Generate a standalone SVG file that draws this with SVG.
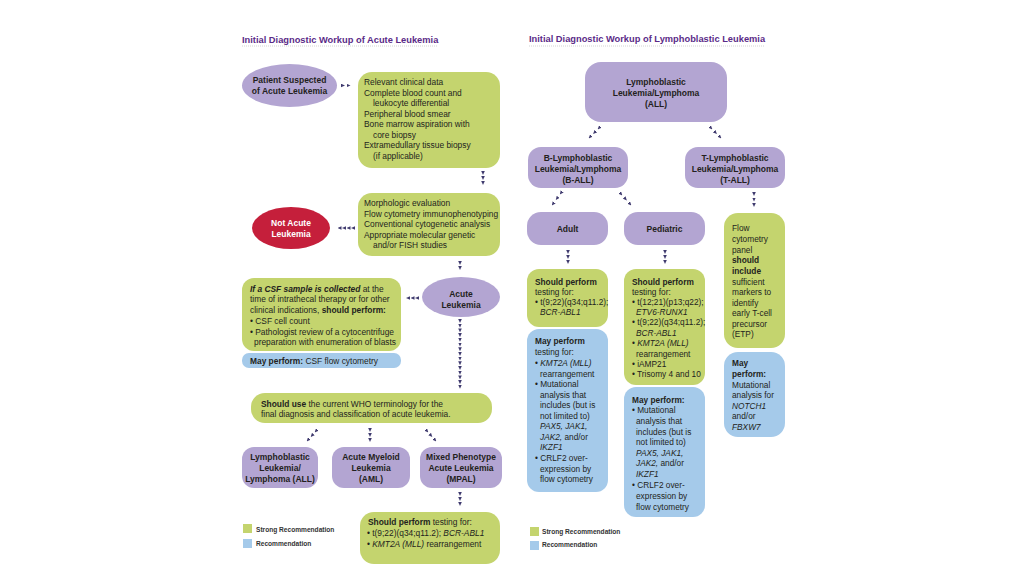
<svg xmlns="http://www.w3.org/2000/svg" width="1024" height="574" viewBox="0 0 1024 574">
<style>
text{font-family:"Liberation Sans",Arial,sans-serif;fill:#231f20}
.t{font-size:9.3px;font-weight:bold;fill:#5a2a87}
.b{font-size:8.4px}
.r{font-size:8.3px}
.n{font-size:8.5px;font-weight:bold;text-anchor:middle}
.w{fill:#ffffff}
.lg{font-size:6.6px;font-weight:bold;fill:#333}
.g{fill:#c4d46e}
.bl{fill:#a5caea}
.p{fill:#b3a5d2}
.red{fill:#c51f3b}
.bo{font-weight:bold}
.i{font-style:italic}
.c{fill:none;stroke:none;marker-start:url(#ah);marker-mid:url(#ah);marker-end:url(#ah)}
.ul{stroke:#c8c8c8;stroke-width:0.8;stroke-dasharray:1 1}
</style>
<defs>
<marker id="ah" viewBox="0 0 4 4" refX="2" refY="2" markerWidth="4" markerHeight="4" markerUnits="userSpaceOnUse" orient="auto">
<path d="M0,0.2 L4,2 L0,3.8 z" fill="#3f3a6e"/>
</marker>
</defs>
<rect width="1024" height="574" fill="#ffffff"/>

<g id="titles">
<text class="t" x="242" y="42.5">Initial Diagnostic Workup of Acute Leukemia</text>
<line class="ul" x1="242" y1="46" x2="438" y2="46"/>
<text class="t" x="529" y="42">Initial Diagnostic Workup of Lymphoblastic Leukemia</text>
<line class="ul" x1="529" y1="46" x2="765" y2="46"/>
</g>

<g id="connectors">
<polyline class="c" points="343,85.5 348.5,85.5"/>
<polyline class="c" points="483,173 483,178 483,183"/>
<polyline class="c" points="353,228 348.5,228 344,228 339.5,228"/>
<polyline class="c" points="460,263 460,268"/>
<polyline class="c" points="417,298 412.5,298 408,298"/>
<polyline class="c" points="460,321 460,325.7 460,330.4 460,335.1 460,339.8 460,344.5 460,349.2 460,353.9 460,358.6 460,363.3 460,368 460,372.7 460,377.4 460,382.1 460,386.8"/>
<polyline class="c" points="316,431 312,435.5 308,440"/>
<polyline class="c" points="370,430 370,435 370,440"/>
<polyline class="c" points="427,431 431,435.5 435,440"/>
<polyline class="c" points="460,494 460,499 460,504"/>
<polyline class="c" points="599,128 594.5,132.5 590,137"/>
<polyline class="c" points="711,128 715.5,132.5 720,137"/>
<polyline class="c" points="561,193 557,198.5 553,204"/>
<polyline class="c" points="621,194 625.5,199 630,204"/>
<polyline class="c" points="754,194 754,199.5 754,205"/>
<polyline class="c" points="568,252 568,257 568,262"/>
<polyline class="c" points="665,252 665,257 665,262"/>
</g>

<g id="patient">
<ellipse class="p" cx="289.5" cy="85.5" rx="47.5" ry="21.5"/>
<text class="n" x="289.5" y="83">Patient Suspected</text>
<text class="n" x="289.5" y="94">of Acute Leukemia</text>
</g>

<g id="workup1">
<rect class="g" x="358" y="72" width="142" height="96" rx="14"/>
<text class="b" x="364" y="85">Relevant clinical data</text>
<text class="b" x="364" y="95.5">Complete blood count and</text>
<text class="b" x="373" y="106">leukocyte differential</text>
<text class="b" x="364" y="116.5">Peripheral blood smear</text>
<text class="b" x="364" y="127">Bone marrow aspiration with</text>
<text class="b" x="373" y="137.5">core biopsy</text>
<text class="b" x="364" y="148">Extramedullary tissue biopsy</text>
<text class="b" x="373" y="158.5">(if applicable)</text>
</g>

<g id="workup2">
<rect class="g" x="358" y="193" width="142" height="63" rx="14"/>
<text class="b" x="364" y="206">Morphologic evaluation</text>
<text class="b" x="364" y="216.5">Flow cytometry immunophenotyping</text>
<text class="b" x="364" y="227">Conventional cytogenetic analysis</text>
<text class="b" x="364" y="237.5">Appropriate molecular genetic</text>
<text class="b" x="373" y="248">and/or FISH studies</text>
</g>

<g id="notacute">
<ellipse class="red" cx="291" cy="228" rx="39" ry="21"/>
<text class="n w" x="291" y="226">Not Acute</text>
<text class="n w" x="291" y="236.5">Leukemia</text>
</g>

<g id="acute">
<ellipse class="p" cx="461" cy="297" rx="39" ry="20"/>
<text class="n" x="461" y="297">Acute</text>
<text class="n" x="461" y="308">Leukemia</text>
</g>

<g id="csf">
<rect class="g" x="242" y="278" width="159" height="73" rx="12"/>
<text class="b" x="250" y="291.5"><tspan class="bo i">If a CSF sample is collected</tspan> at the</text>
<text class="b" x="250" y="302">time of intrathecal therapy or for other</text>
<text class="b" x="250" y="312.5">clinical indications, <tspan class="bo">should perform:</tspan></text>
<text class="b" x="250" y="323.5">• CSF cell count</text>
<text class="b" x="250" y="334.5">• Pathologist review of a cytocentrifuge</text>
<text class="b" x="254" y="345">preparation with enumeration of blasts</text>
</g>

<g id="csfmay">
<rect class="bl" x="242" y="353" width="159" height="15" rx="7"/>
<text class="b" x="250" y="364"><tspan class="bo">May perform:</tspan> CSF flow cytometry</text>
</g>

<g id="who">
<rect class="g" x="251" y="393" width="241" height="30" rx="14"/>
<text class="b" x="261" y="407"><tspan class="bo">Should use</tspan> the current WHO terminology for the</text>
<text class="b" x="261" y="416.5">final diagnosis and classification of acute leukemia.</text>
</g>

<g id="all">
<rect class="p" x="242" y="447" width="76" height="41" rx="12"/>
<text class="n" x="280" y="460">Lymphoblastic</text>
<text class="n" x="280" y="471">Leukemia/</text>
<text class="n" x="280" y="482">Lymphoma (ALL)</text>
</g>

<g id="aml">
<rect class="p" x="332" y="447" width="78" height="41" rx="12"/>
<text class="n" x="371" y="460">Acute Myeloid</text>
<text class="n" x="371" y="471">Leukemia</text>
<text class="n" x="371" y="482">(AML)</text>
</g>

<g id="mpal">
<rect class="p" x="420" y="447" width="82" height="41" rx="12"/>
<text class="n" x="461" y="460">Mixed Phenotype</text>
<text class="n" x="461" y="471">Acute Leukemia</text>
<text class="n" x="461" y="482">(MPAL)</text>
</g>

<g id="mpaltest">
<rect class="g" x="360" y="512" width="140" height="52" rx="14"/>
<text class="b" x="368" y="525"><tspan class="bo">Should perform</tspan> testing for:</text>
<text class="b" x="367" y="536">• t(9;22)(q34;q11.2); <tspan class="i">BCR-ABL1</tspan></text>
<text class="b" x="367" y="546.5">• <tspan class="i">KMT2A (MLL)</tspan> rearrangement</text>
</g>

<g id="legend-left">
<rect class="g" x="243" y="524" width="9" height="9"/>
<text class="lg" x="256" y="531.5">Strong Recommendation</text>
<rect class="bl" x="243" y="539" width="9" height="9"/>
<text class="lg" x="256" y="545.5">Recommendation</text>
</g>

<g id="lall">
<rect class="p" x="585" y="62" width="142" height="60" rx="16"/>
<text class="n" x="656" y="85">Lymphoblastic</text>
<text class="n" x="656" y="96">Leukemia/Lymphoma</text>
<text class="n" x="656" y="107">(ALL)</text>
</g>

<g id="ball">
<rect class="p" x="528" y="147" width="100" height="41" rx="13"/>
<text class="n" x="578" y="161">B-Lymphoblastic</text>
<text class="n" x="578" y="172">Leukemia/Lymphoma</text>
<text class="n" x="578" y="183">(B-ALL)</text>
</g>

<g id="tall">
<rect class="p" x="685" y="147" width="100" height="41" rx="13"/>
<text class="n" x="735" y="161">T-Lymphoblastic</text>
<text class="n" x="735" y="172">Leukemia/Lymphoma</text>
<text class="n" x="735" y="183">(T-ALL)</text>
</g>

<g id="adult">
<rect class="p" x="527" y="212" width="81" height="33" rx="14"/>
<text class="n" x="567.5" y="231.5">Adult</text>
</g>

<g id="pediatric">
<rect class="p" x="624" y="212" width="81" height="33" rx="14"/>
<text class="n" x="664.5" y="231.5">Pediatric</text>
</g>

<g id="adult-should">
<rect class="g" x="527" y="269" width="81" height="58" rx="12"/>
<text class="r bo" x="535" y="285" font-size="8.6">Should perform</text>
<text class="r" x="535" y="295">testing for:</text>
<text class="r" x="535" y="305">• t(9;22)(q34;q11.2);</text>
<text class="r i" x="540" y="315">BCR-ABL1</text>
</g>

<g id="adult-may">
<rect class="bl" x="527" y="329" width="81" height="163" rx="12"/>
<text class="r bo" x="535" y="344" font-size="8.6">May perform</text>
<text class="r" x="535" y="355">testing for:</text>
<text class="r" x="535" y="366">• <tspan class="i">KMT2A (MLL)</tspan></text>
<text class="r" x="540" y="377">rearrangement</text>
<text class="r" x="535" y="387">• Mutational</text>
<text class="r" x="540" y="398">analysis that</text>
<text class="r" x="540" y="408">includes (but is</text>
<text class="r" x="540" y="419">not limited to)</text>
<text class="r i" x="540" y="429">PAX5, JAK1,</text>
<text class="r" x="540" y="440"><tspan class="i">JAK2,</tspan> and/or</text>
<text class="r i" x="540" y="450">IKZF1</text>
<text class="r" x="535" y="461">• CRLF2 over-</text>
<text class="r" x="540" y="472">expression by</text>
<text class="r" x="540" y="482">flow cytometry</text>
</g>

<g id="ped-should">
<rect class="g" x="624" y="269" width="81" height="116" rx="12"/>
<text class="r bo" x="632" y="285" font-size="8.6">Should perform</text>
<text class="r" x="632" y="295">testing for:</text>
<text class="r" x="632" y="305">• t(12;21)(p13;q22);</text>
<text class="r i" x="636" y="315">ETV6-RUNX1</text>
<text class="r" x="632" y="325">• t(9;22)(q34;q11.2);</text>
<text class="r i" x="636" y="335.5">BCR-ABL1</text>
<text class="r" x="632" y="346">• <tspan class="i">KMT2A (MLL)</tspan></text>
<text class="r" x="636" y="356.5">rearrangement</text>
<text class="r" x="632" y="366.5">• iAMP21</text>
<text class="r" x="632" y="376.5">• Trisomy 4 and 10</text>
</g>

<g id="ped-may">
<rect class="bl" x="624" y="387" width="81" height="130" rx="12"/>
<text class="r bo" x="632" y="402.5" font-size="8.6">May perform:</text>
<text class="r" x="632" y="413">• Mutational</text>
<text class="r" x="636" y="424">analysis that</text>
<text class="r" x="636" y="434.5">includes (but is</text>
<text class="r" x="636" y="445">not limited to)</text>
<text class="r i" x="636" y="455.5">PAX5, JAK1,</text>
<text class="r" x="636" y="466"><tspan class="i">JAK2,</tspan> and/or</text>
<text class="r i" x="636" y="477">IKZF1</text>
<text class="r" x="632" y="488">• CRLF2 over-</text>
<text class="r" x="636" y="499">expression by</text>
<text class="r" x="636" y="509.5">flow cytometry</text>
</g>

<g id="tall-should">
<rect class="g" x="724" y="213" width="61" height="135" rx="14"/>
<text class="r" x="732" y="231">Flow</text>
<text class="r" x="732" y="242">cytometry</text>
<text class="r" x="732" y="252.5">panel</text>
<text class="r bo" x="732" y="263" font-size="8.6">should</text>
<text class="r bo" x="732" y="274" font-size="8.6">include</text>
<text class="r" x="732" y="284.5">sufficient</text>
<text class="r" x="732" y="295">markers to</text>
<text class="r" x="732" y="305.5">identify</text>
<text class="r" x="732" y="316">early T-cell</text>
<text class="r" x="732" y="326.5">precursor</text>
<text class="r" x="732" y="337">(ETP)</text>
</g>

<g id="tall-may">
<rect class="bl" x="724" y="352" width="61" height="85" rx="14"/>
<text class="r bo" x="732" y="366" font-size="8.6">May</text>
<text class="r bo" x="732" y="377" font-size="8.6">perform:</text>
<text class="r" x="732" y="387.5">Mutational</text>
<text class="r" x="732" y="398">analysis for</text>
<text class="r i" x="732" y="408.5">NOTCH1</text>
<text class="r" x="732" y="419">and/or</text>
<text class="r i" x="732" y="430">FBXW7</text>
</g>

<g id="legend-right">
<rect class="g" x="530" y="527" width="9" height="9"/>
<text class="lg" x="542" y="533.5">Strong Recommendation</text>
<rect class="bl" x="530" y="541" width="9" height="9"/>
<text class="lg" x="542" y="547">Recommendation</text>
</g>
</svg>
